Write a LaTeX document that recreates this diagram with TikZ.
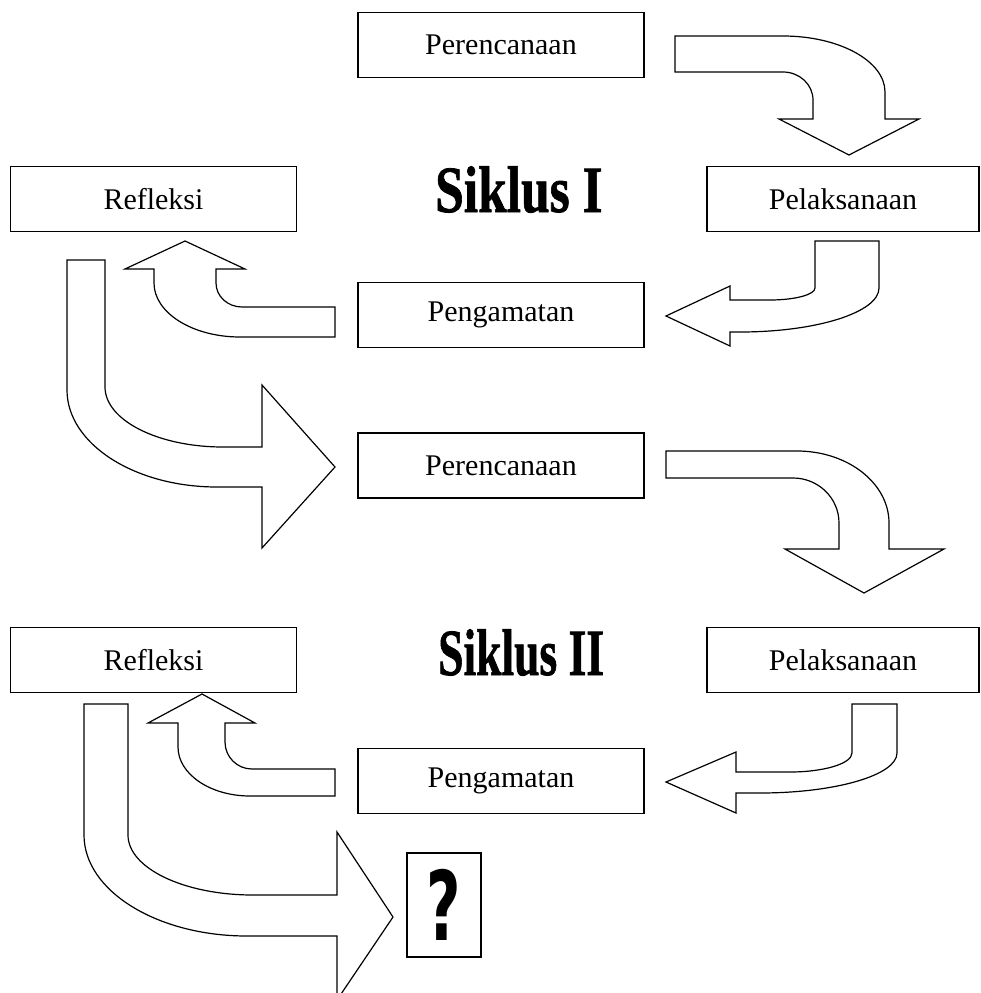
\documentclass[tikz,border=0pt]{standalone}
\usepackage{fontspec}
\setmainfont{Liberation Serif}
\newfontfamily\tanyafont{DejaVu Sans}
\newfontface\judulfont[FakeBold=1.2]{Liberation Serif Bold}
\usepackage{graphicx}

\begin{document}
\begin{tikzpicture}
	[
	x=1pt, y=-1pt, font=\fontsize{30}{36}\selectfont,
	%gaya kotak dan panah blok
	kotak/.style={draw, line width=1.3pt, minimum width=286pt, minimum height=65pt, inner sep=0pt},
	panah/.style={draw, line width=1.2pt, line join=miter, fill=white},
	judul/.style={anchor=base west, inner sep=0pt, font=\fontsize{66}{70}\judulfont}
	]

	%bingkai gambar
	\useasboundingbox (0,0) rectangle (980,993);

	%Siklus I
	\node [kotak] (per1) at (501,45) {Perencanaan};
	\node [kotak, minimum width=272pt] (pel1) at (843,199) {Pelaksanaan};
	\node [kotak] (pen1) at (501,315) {Pengamatan};
	\node [kotak] (ref1) at (153.5,199) {Refleksi};
	\node [judul] (sik1) at (435,212) {\scalebox{0.78}[1]{Siklus I}};

	%Siklus II
	\node [kotak] (per2) at (501,465.5) {Perencanaan};
	\node [kotak, minimum width=272pt] (pel2) at (843,660) {Pelaksanaan};
	\node [kotak] (pen2) at (501,781) {Pengamatan};
	\node [kotak] (ref2) at (153.5,660) {Refleksi};
	\node [judul] (sik2) at (438,675) {\scalebox{0.69}[1]{Siklus II}};
	\node [draw, line width=1.3pt, minimum width=74pt, minimum height=104pt, inner sep=0pt] (tanya) at (444,905)
		{\tanyafont\fontsize{96}{100}\selectfont\bfseries\scalebox{0.62}[1]{?}};

	%panah perencanaan -> pelaksanaan
	\draw [panah] (675,36) -- (783,36) arc [start angle=90, end angle=0, x radius=102pt, y radius=56pt]
		-- (885,119) -- (919,119) -- (849,155) -- (779,119) -- (813,119) -- (813,100)
		arc [start angle=0, end angle=90, x radius=30pt, y radius=28pt] -- (675,72) -- cycle;
	\draw [panah] (666,451) -- (797,451) arc [start angle=90, end angle=0, x radius=92pt, y radius=72pt]
		-- (889,549) -- (944,549) -- (864,593) -- (785,549) -- (839,549) -- (839,523)
		arc [start angle=0, end angle=90, x radius=46pt, y radius=45pt] -- (666,478) -- cycle;

	%panah pelaksanaan -> pengamatan
	\draw [panah] (815,241) -- (879,241) -- (879,288) arc [start angle=0, end angle=-90, x radius=139pt, y radius=44pt]
		-- (730,332) -- (730,346) -- (666,316) -- (730,286) -- (730,300) -- (770,300)
		arc [start angle=-90, end angle=0, x radius=45pt, y radius=12pt] -- cycle;
	\draw [panah] (852,704) -- (897,704) -- (897,753) arc [start angle=0, end angle=-90, x radius=137pt, y radius=40pt]
		-- (736,793) -- (736,813) -- (666,782) -- (736,752) -- (736,772) -- (790,772)
		arc [start angle=-90, end angle=0, x radius=62pt, y radius=19pt] -- cycle;

	%panah pengamatan -> refleksi
	\draw [panah] (335,307) -- (242,307) arc [start angle=-90, end angle=-180, x radius=26pt, y radius=24pt]
		-- (216,269) -- (245,269) -- (185,241) -- (125,269) -- (154,269) -- (154,283)
		arc [start angle=180, end angle=270, x radius=86pt, y radius=54pt] -- (335,337) -- cycle;
	\draw [panah] (335,769) -- (252,769) arc [start angle=-90, end angle=-180, x radius=27pt, y radius=27pt]
		-- (225,723) -- (255,723) -- (202,694) -- (148,723) -- (178,723) -- (178,747)
		arc [start angle=180, end angle=270, x radius=72pt, y radius=49pt] -- (335,796) -- cycle;

	%panah refleksi -> siklus berikutnya
	\draw [panah] (67,260) -- (105,260) -- (105,387) arc [start angle=180, end angle=270, x radius=118pt, y radius=60pt]
		-- (262,447) -- (262,385) -- (335,467) -- (262,548) -- (262,487) -- (217,487)
		arc [start angle=270, end angle=180, x radius=150pt, y radius=97pt] -- cycle;
	\draw [panah] (84,704) -- (128,704) -- (128,835) arc [start angle=180, end angle=270, x radius=125pt, y radius=60pt]
		-- (337,895) -- (337,832) -- (393,917) -- (337,1000) -- (337,936) -- (247,936)
		arc [start angle=270, end angle=180, x radius=163pt, y radius=101pt] -- cycle;
\end{tikzpicture}
\end{document}
